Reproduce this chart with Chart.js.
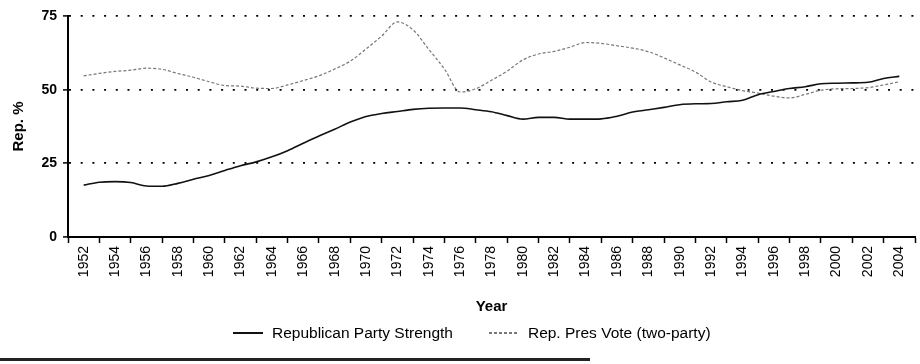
<!DOCTYPE html>
<html>
<head>
<meta charset="utf-8">
<script src="https://cdn.jsdelivr.net/npm/chart.js@4.4.1/dist/chart.umd.min.js"></script>
<style>
    html, body { margin: 0; padding: 0; background: #fff; }
    #wrap { position: relative; width: 920px; height: 364px; overflow: hidden; }
    #pageEdge { position: absolute; left: 0; top: 358px; width: 590px; height: 3px; background: #222; }
    #legend {
        position: absolute; left: 233px; top: 324px; height: 18px;
        display: flex; align-items: center;
        font-family: Arial, 'Liberation Sans', sans-serif; font-size: 15.5px; color: #000;
    }
    #legend .item { display: flex; align-items: center; margin-right: 36px; white-space: nowrap; }
    #legend .swatch { display: inline-block; width: 30px; margin-right: 9px; }
</style>
</head>
<body>
<div id="wrap">
    <canvas id="strengthChart" width="920" height="364"></canvas>
    <div id="legend"></div>
    <div id="pageEdge"></div>
</div>
<script>
// Years (annual series)
const years = [
    1952, 1953, 1954, 1955, 1956, 1957, 1958, 1959, 1960, 1961,
    1962, 1963, 1964, 1965, 1966, 1967, 1968, 1969, 1970, 1971,
    1972, 1973, 1974, 1975, 1976, 1977, 1978, 1979, 1980, 1981,
    1982, 1983, 1984, 1985, 1986, 1987, 1988, 1989, 1990, 1991,
    1992, 1993, 1994, 1995, 1996, 1997, 1998, 1999, 2000, 2001,
    2002, 2003, 2004
];

// Republican Party Strength (%)
const partyStrength = [
    17.6, 18.6, 18.8, 18.5, 17.3, 17.2, 18.2, 19.6, 20.9, 22.6,
    24.2, 25.5, 27.2, 29.3, 31.8, 34.3, 36.6, 39.0, 40.9, 41.9,
    42.6, 43.3, 43.7, 43.8, 43.8, 43.2, 42.5, 41.2, 40.0, 40.6,
    40.6, 40.0, 40.0, 40.1, 41.0, 42.4, 43.2, 44.0, 44.9, 45.2,
    45.3, 45.9, 46.4, 48.3, 49.4, 50.4, 51.0, 52.0, 52.2, 52.3,
    52.5, 53.8, 54.5
];

// Rep. Pres Vote, two-party (%)
const presVote = [
    54.7, 55.5, 56.2, 56.6, 57.3, 56.9, 55.5, 54.2, 52.7, 51.4,
    51.2, 50.5, 50.4, 51.6, 53.1, 54.7, 57.0, 59.7, 63.8, 68.2,
    73.0, 70.3, 63.7, 57.0, 49.2, 50.3, 53.2, 56.3, 60.1, 62.1,
    63.0, 64.4, 66.0, 65.7, 64.9, 64.1, 62.9, 60.8, 58.4, 56.0,
    52.6, 51.0, 49.7, 48.8, 47.8, 47.2, 48.4, 49.8, 50.3, 50.4,
    50.7, 51.6, 52.7
];

// Axis labels
const xTickLabels = [
    '1952', '1954', '1956', '1958', '1960', '1962', '1964', '1966', '1968',
    '1970', '1972', '1974', '1976', '1978', '1980', '1982', '1984', '1986',
    '1988', '1990', '1992', '1994', '1996', '1998', '2000', '2002', '2004'
];
const yTicks = [0, 25, 50, 75];

const FONT = "Arial, 'Liberation Sans', sans-serif";
Chart.defaults.font.family = FONT;
Chart.defaults.color = '#000';

const toPoints = (vals) => vals.map((v, i) => ({ x: years[i], y: v }));

// Legend built from the chart's own legend items, laid out in HTML
const htmlLegend = {
    id: 'htmlLegend',
    afterUpdate(chart) {
        const box = document.getElementById('legend');
        box.innerHTML = '';
        const items = chart.options.plugins.legend.labels.generateLabels(chart);
        items.forEach(item => {
            const row = document.createElement('div');
            row.className = 'item';
            const swatch = document.createElement('span');
            swatch.className = 'swatch';
            swatch.style.height = item.lineWidth + 'px';
            const dash = item.lineDash || [];
            if (dash.length) {
                const on = dash[0], off = dash[0] + dash[1];
                swatch.style.background = `repeating-linear-gradient(to right, ${item.strokeStyle} 0 ${on}px, transparent ${on}px ${off}px)`;
            } else {
                swatch.style.background = item.strokeStyle;
            }
            const label = document.createElement('span');
            label.textContent = item.text;
            row.appendChild(swatch);
            row.appendChild(label);
            box.appendChild(row);
        });
    }
};

const ctx = document.getElementById('strengthChart').getContext('2d');

new Chart(ctx, {
    type: 'line',
    data: {
        datasets: [
            {
                label: 'Republican Party Strength',
                data: toPoints(partyStrength),
                borderColor: '#111',
                backgroundColor: '#111',
                borderWidth: 1.6,
                pointRadius: 0,
                cubicInterpolationMode: 'monotone'
            },
            {
                label: 'Rep. Pres Vote (two-party)',
                data: toPoints(presVote),
                borderColor: '#777',
                backgroundColor: '#777',
                borderWidth: 1.2,
                borderDash: [3, 2],
                pointRadius: 0,
                cubicInterpolationMode: 'monotone'
            }
        ]
    },
    options: {
        responsive: false,
        animation: false,
        devicePixelRatio: 1,
        layout: { padding: { top: 16, right: 5, bottom: 0, left: 0 } },
        plugins: {
            legend: { display: false },
            tooltip: { enabled: false }
        },
        scales: {
            x: {
                type: 'linear',
                min: 1951,
                max: 2005,
                afterBuildTicks: (scale) => {
                    const ticks = [];
                    for (let y = 1951; y <= 2005; y++) ticks.push({ value: y });
                    scale.ticks = ticks;
                },
                afterFit: (scale) => {
                    scale.height = 127;
                    // rotated labels need no side room; let the axis run to the edge
                    scale.paddingLeft = 0;
                    scale.paddingRight = 0;
                },
                border: { color: '#000', width: 2 },
                grid: {
                    drawOnChartArea: false,
                    tickLength: 6,
                    tickWidth: 1.5,
                    tickColor: (c) => (c.tick && c.tick.value % 2 !== 0) ? '#000' : 'rgba(0,0,0,0)'
                },
                ticks: {
                    autoSkip: false,
                    minRotation: 90,
                    maxRotation: 90,
                    padding: 3,
                    font: { size: 14 },
                    callback: (v) => xTickLabels.includes(String(v)) ? String(v) : ''
                },
                title: {
                    display: true,
                    text: 'Year',
                    font: { size: 15, weight: 'bold' },
                    padding: { top: 0, bottom: 48 }
                }
            },
            y: {
                min: 0,
                max: 75,
                afterBuildTicks: (scale) => {
                    scale.ticks = yTicks.map(v => ({ value: v }));
                },
                afterFit: (scale) => { scale.width = 68; },
                border: { color: '#000', width: 2, dash: [2, 9.7] },
                grid: {
                    color: (c) => (c.tick && c.tick.value === 0) ? 'rgba(0,0,0,0)' : '#000',
                    lineWidth: 1.8,
                    tickLength: 5,
                    tickColor: '#000',
                    tickWidth: 1.5,
                    tickBorderDash: []
                },
                ticks: {
                    padding: 6,
                    font: { size: 14, weight: 'bold' }
                },
                title: {
                    display: true,
                    text: 'Rep. %',
                    font: { size: 15, weight: 'bold' },
                    padding: { top: 10, bottom: 0 }
                }
            }
        }
    },
    plugins: [htmlLegend]
});
</script>
</body>
</html>
